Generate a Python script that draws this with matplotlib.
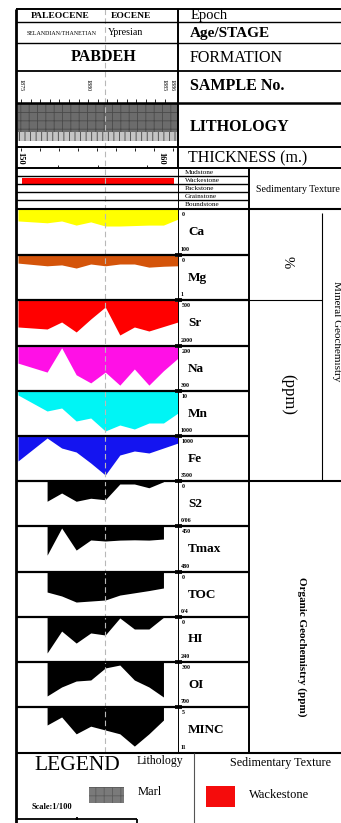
import matplotlib
matplotlib.use("Agg")
import matplotlib.pyplot as plt
from matplotlib.patches import Rectangle

# ---- data -------------------------------------------------------------
samples = [1875, 1876, 1877, 1878, 1879, 1880, 1881, 1882, 1883, 1884, 1885, 1886]
org_samples = [1877, 1878, 1879, 1880, 1881, 1882, 1883, 1884, 1885]

ca = [26, 28, 30, 26, 35, 28, 37, 37, 36, 35, 35, 22]            # %
mg = [0.18, 0.21, 0.24, 0.22, 0.29, 0.20, 0.24, 0.20, 0.20, 0.27, 0.25, 0.24]  # %
sr = [1380, 1413, 1446, 1217, 1543, 1120, 728, 1641, 1380, 1511, 1364, 1217]   # ppm
na = [238, 248, 258, 204, 264, 282, 258, 287, 251, 287, 255, 227]              # ppm
mn = [98, 274, 450, 384, 670, 604, 890, 758, 846, 714, 714, 494]               # ppm
fe = [2389, 1750, 1111, 1667, 1889, 2500, 3167, 2056, 1833, 1944, 1667, 1389]  # ppm

s2 = [0.027, 0.016, 0.027, 0.023, 0.025, 0.004, 0.004, 0.009, 0.001]
tmax = [469.0, 451.3, 465.7, 459.1, 459.8, 459.2, 459.0, 459.2, 458.5]
toc = [0.178, 0.213, 0.267, 0.258, 0.249, 0.205, 0.185, 0.165, 0.142]
hi = [192, 75, 139, 85, 96, 5, 64, 64, 2]
oi = [602, 522, 469, 460, 353, 327, 460, 522, 611]
minc = [7.35, 6.3, 8.5, 7.5, 8.0, 8.5, 10.1, 8.5, 6.7]

textures = ["Mudstone", "Wackestone", "Packstone", "Grainstone", "Boundstone"]
texture_present = "Wackestone"

sample_labels = [1875, 1880, 1885, 1886]
thickness_range = (150, 160)

# name, values, x, top label, bottom label, top value, bottom value, colour
tracks = [
    ("Ca", ca, samples, "0", "100", 0, 100, "#ffff00"),
    ("Mg", mg, samples, "0", "1", 0, 1, "#d4540a"),
    ("Sr", sr, samples, "500", "2000", 500, 2000, "#ff0000"),
    ("Na", na, samples, "200", "300", 200, 300, "#ff10e6"),
    ("Mn", mn, samples, "10", "1000", 10, 1000, "#00f5f5"),
    ("Fe", fe, samples, "1000", "3500", 1000, 3500, "#1414f0"),
    ("S2", s2, org_samples, "0", "0/06", 0, 0.06, "black"),
    ("Tmax", tmax, org_samples, "450", "480", 450, 480, "black"),
    ("TOC", toc, org_samples, "0", "0/4", 0, 0.4, "black"),
    ("HI", hi, org_samples, "0", "240", 0, 240, "black"),
    ("OI", oi, org_samples, "300", "700", 300, 700, "black"),
    ("MINC", minc, org_samples, "5", "11", 5, 11, "black"),
]

# ---- layout (pixels) -----------------------------------------------------
W, H, DPI = 341, 823, 100
SERIF = ["Liberation Serif", "DejaVu Serif"]
plt.rcParams["font.family"] = SERIF
plt.rcParams["hatch.linewidth"] = 0.6

X0, X1 = 18, 178          # data column
LX = 249                  # right edge of label column
row_edges = [209, 255, 300, 346, 391, 436, 481, 526, 572, 617, 662, 707, 753]

fig = plt.figure(figsize=(W / DPI, H / DPI), dpi=DPI)
fig.patch.set_facecolor("white")


def px_axes(x0, y0, x1, y1):
    ax = fig.add_axes([x0 / W, 1 - y1 / H, (x1 - x0) / W, (y1 - y0) / H])
    ax.set_axis_off()
    ax.patch.set_alpha(0)
    return ax


def sx(s):
    return X0 + (s - samples[0]) / (samples[-1] - samples[0]) * (X1 - X0)


# lithology column (marl)
lax = px_axes(X0, 103, X1, 147)
lax.set_xlim(samples[0], samples[-1])
lax.set_ylim(0, 1)
lax.add_patch(Rectangle((samples[0], 0.34), samples[-1] - samples[0], 0.64,
                        facecolor="#6c6c6c", edgecolor="#4a4a4a", hatch="++", lw=0))
lax.add_patch(Rectangle((samples[0], 0.14), samples[-1] - samples[0], 0.20,
                        facecolor="#c4c4c4", edgecolor="#444444", hatch="|||", lw=0))

# sedimentary texture column
tax = px_axes(X0, 169, X1, 209)
tax.set_xlim(samples[0], samples[-1])
tax.set_ylim(len(textures) - 0.5, -0.5)
tax.barh(textures.index(texture_present), samples[-1] - samples[0] - 0.6,
         left=samples[0] + 0.3, height=0.75, color="#ff0000")

# geochemistry tracks
for i, (name, vals, xs, tl, bl, tv, bv, col) in enumerate(tracks):
    y0, y1 = row_edges[i], row_edges[i + 1]
    ax = px_axes(X0, y0, X1, y1)
    ax.set_xlim(samples[0], samples[-1])
    ax.set_ylim(bv, tv)
    ax.fill_between(xs, tv, vals, color=col, lw=0)

# ---- overlay: frame lines and text --------------------------------------
ov = fig.add_axes([0, 0, 1, 1])
ov.set_xlim(0, W)
ov.set_ylim(H, 0)
ov.set_axis_off()
ov.patch.set_alpha(0)


def hline(y, x0, x1, lw=1.0, c="black"):
    ov.plot([x0, x1], [y, y], color=c, lw=lw, solid_capstyle="butt")


def vline(x, y0, y1, lw=1.0, c="black"):
    ov.plot([x, x], [y0, y1], color=c, lw=lw, solid_capstyle="butt")


# boundary between Paleocene and Eocene
vline(sx(1881), 9, 753, lw=0.8, c="#b8b8b8")
ov.lines[-1].set_dashes([5, 3])

for y, lw in [(9, 1.4), (22, 1.0), (43, 1.0), (71, 1.3), (103, 1.8), (147, 1.4), (168, 1.4)]:
    hline(y, 16, W, lw)
for y in [176, 184, 192, 200]:
    hline(y, 16, 248, 1.0)
hline(209, 16, W, 1.5)
for y in row_edges[1:-1]:
    hline(y, 16, LX, 1.6)
    ov.add_patch(Rectangle((175, y - 1.8), 7, 3.6, color="#222222", lw=0))
hline(300, LX, 322, 0.8)
hline(481, LX, W, 1.5)
hline(753, 16, W, 1.5)

vline(16, 9, H, 2.0)
vline(178, 9, 168, 1.4)
vline(178, 168, 753, 0.7)
vline(248.5, 168, 753, 1.4)
vline(322, 213, 481, 0.8)
vline(194, 753, H, 0.8, "#555555")

# sample row ticks
for k in range(16):
    vline(21 + k * 9.6, 99, 103, 0.6)
# thickness row ticks
for k in range(9):
    vline(21 + k * 19, 148, 151, 0.6)
for x in [58, 98, 147]:
    vline(x, 165, 168, 0.6)

# header text
ov.text(60, 16, "PALEOCENE", fontsize=6.8, fontweight="bold", ha="center", va="center")
ov.text(131, 16, "EOCENE", fontsize=6.8, fontweight="bold", ha="center", va="center")
ov.text(62, 33, "SELANDIAN/THANETIAN", fontsize=4.3, ha="center", va="center")
ov.text(126, 32, "Ypresian", fontsize=7.2, ha="center", va="center")
ov.text(104, 57, "PABDEH", fontsize=11.5, fontweight="bold", ha="center", va="center")
label_shift = {1875: 3, 1880: -3, 1885: 0, 1886: -6}
for s in sample_labels:
    ov.text(sx(s) + label_shift[s], 85, str(s), fontsize=4.3,
            rotation=-90, ha="center", va="center")
ov.text(20, 158, str(thickness_range[0]), fontsize=6, fontweight="bold",
        rotation=-90, ha="center", va="center")
ov.text(161, 158, str(thickness_range[1]), fontsize=6, fontweight="bold",
        rotation=-90, ha="center", va="center")

ov.text(191, 15, "Epoch", fontsize=10.5, ha="left", va="center")
ov.text(190, 33, "Age/STAGE", fontsize=11, fontweight="bold", ha="left", va="center")
ov.text(190, 58, "FORMATION", fontsize=11.5, ha="left", va="center")
ov.text(190, 86, "SAMPLE No.", fontsize=11.5, fontweight="bold", ha="left", va="center")
ov.text(190, 127, "LITHOLOGY", fontsize=11.5, fontweight="bold", ha="left", va="center")
ov.text(188, 158, "THICKNESS (m.)", fontsize=11.5, ha="left", va="center")

for j, t in enumerate(textures):
    ov.text(185, 172.5 + j * 8, t, fontsize=5.2, ha="left", va="center")
ov.text(256, 189, "Sedimentary Texture", fontsize=7.2, ha="left", va="center")

# track labels
for i, (name, vals, xs, tl, bl, tv, bv, col) in enumerate(tracks):
    y0, y1 = row_edges[i], row_edges[i + 1]
    ov.text(182, y0 + 5.5, tl, fontsize=4.3, fontweight="bold", ha="left", va="center")
    ov.text(181, y1 - 5.5, bl, fontsize=4.3, fontweight="bold", ha="left", va="center")
    ov.text(188, (y0 + y1) / 2, name, fontsize=9.5, fontweight="bold", ha="left", va="center")

ov.text(287, 262, "%", fontsize=10.5, rotation=-90, ha="center", va="center")
ov.text(288, 394, "(ppm)", fontsize=12, rotation=-90, ha="center", va="center")
ov.text(336, 331, "Mineral Geochemistry", fontsize=8, rotation=-90, ha="center", va="center")
ov.text(302, 647, "Organic Geochemistry (ppm)", fontsize=8, fontweight="bold",
        rotation=-90, ha="center", va="center")

# legend
ov.text(77, 765, "LEGEND", fontsize=15.5, ha="center", va="center")
ov.text(160, 761, "Lithology", fontsize=8.5, ha="center", va="center")
ov.add_patch(Rectangle((89, 787), 35, 16, facecolor="#7a7a7a", edgecolor="#5c5c5c",
                       hatch="++", lw=0))
ov.text(138, 792, "Marl", fontsize=9, ha="left", va="center")
ov.text(52, 807, "Scale:1/100", fontsize=6, fontweight="bold", ha="center", va="center")
hline(819, 17, 137, 1.3)
vline(77, 817, 820, 1.3)
vline(136.5, 819, 823, 1.3)
ov.text(281, 763, "Sedimentary Texture", fontsize=8.7, ha="center", va="center")
ov.add_patch(Rectangle((206, 786), 29, 21, facecolor="#f50c0c", lw=0))
ov.text(249, 795, "Wackestone", fontsize=9, ha="left", va="center")

fig.savefig("out.png", dpi=DPI, facecolor="white")
